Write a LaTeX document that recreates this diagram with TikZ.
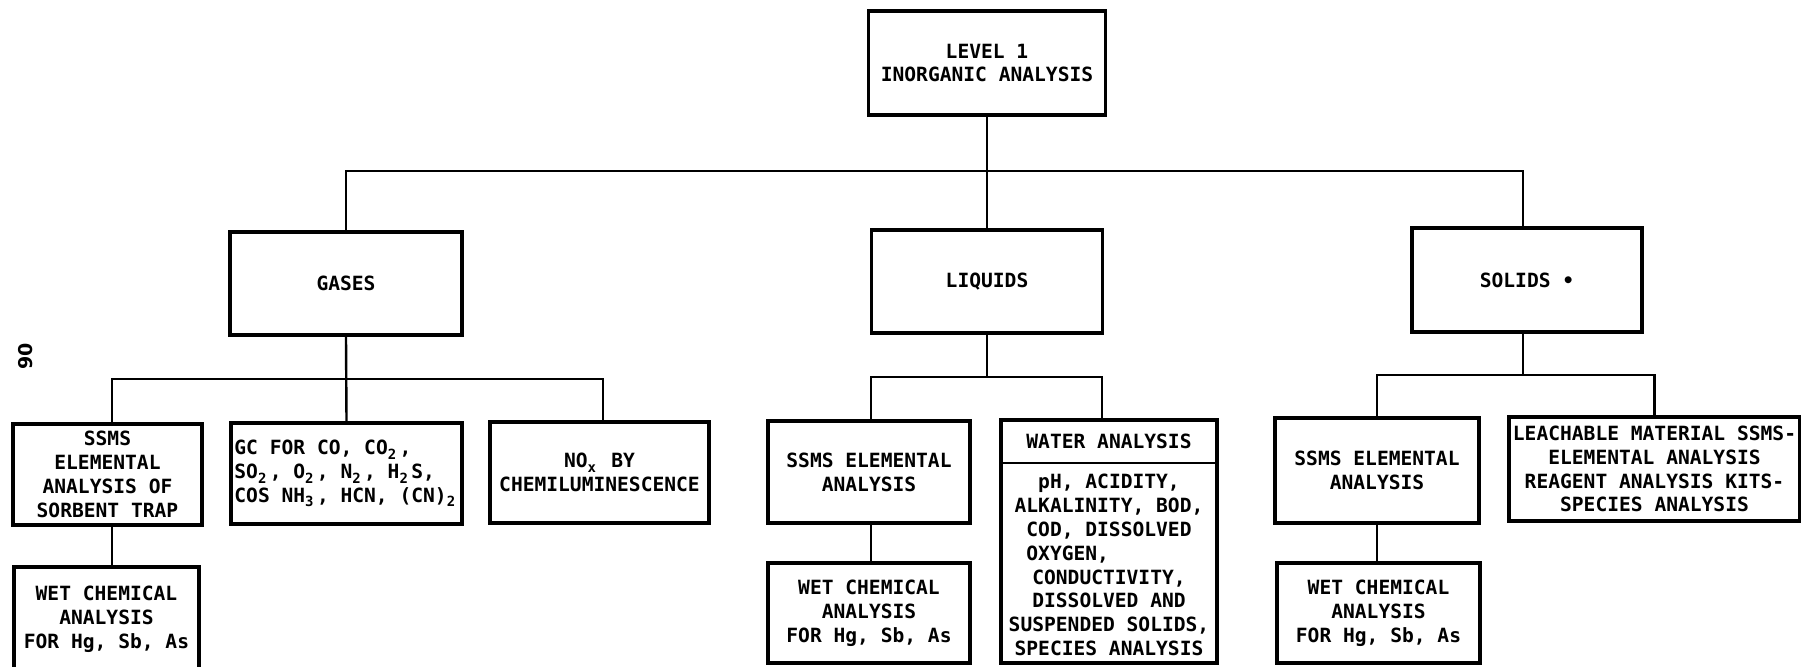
\documentclass[tikz,border=0pt]{standalone}
\usepackage{fontspec}
\setmonofont{DejaVu Sans Mono}
\newfontfamily\pagenumfont{DejaVu Sans}
\newcommand\sbs[1]{\makebox[0.6em][l]{\raisebox{-0.45ex}{\fontsize{7}{7}\selectfont #1}}}
\begin{document}
\begin{tikzpicture}[x=0.5pt,y=-0.5pt,
  box/.style={draw, line width=1.6pt, inner sep=0pt, align=center,
    font=\ttfamily\bfseries\fontsize{9.8}{11.9}\selectfont},
  lbl/.style={inner sep=0pt, align=center,
    font=\ttfamily\bfseries\fontsize{9.8}{11.9}\selectfont},
  link/.style={line width=1.2pt}]
\useasboundingbox (0,0) rectangle (1801,666);
\clip (0,0) rectangle (1801,666);

% page number
\node[rotate=90, inner sep=0pt, font=\pagenumfont\bfseries\fontsize{9.5}{10}\selectfont] (pnum) at (26,356) {90};

% level 0 and 1
\node[box, minimum width=118.5pt, minimum height=52pt] (top) at (987,63) {LEVEL 1\\INORGANIC ANALYSIS};
\node[box, minimum width=116pt, minimum height=51.5pt] (gases) at (346,283.5) {GASES};
\node[box, minimum width=115.5pt, minimum height=51.5pt] (liquids) at (987,281.5) {LIQUIDS};
\node[box, minimum width=115pt, minimum height=52pt] (solids) at (1527,280) {SOLIDS •};

% gases children
\node[box, minimum width=94.5pt, minimum height=50.5pt] (sorbent) at (107.5,474.5) {SSMS\\ELEMENTAL\\ANALYSIS OF\\SORBENT TRAP};
\node[box, minimum width=115.5pt, minimum height=50.5pt, align=left] (gc) at (346.5,473.5) {GC FOR CO, CO\sbs{2},\\SO\sbs{2}, O\sbs{2}, N\sbs{2}, H\sbs{2}S,\\COS NH\sbs{3}, HCN, (CN)\sbs{2}};
\node[box, minimum width=109.5pt, minimum height=50.5pt] (nox) at (599.5,472.5) {NO\sbs{x} BY\\CHEMILUMINESCENCE};
\node[box, minimum width=92.5pt, minimum height=52.5pt] (wet1) at (106.5,619.5) {WET CHEMICAL\\ANALYSIS\\FOR Hg, Sb, As};

% liquids children
\node[box, minimum width=101pt, minimum height=51pt] (lssms) at (869,472) {SSMS ELEMENTAL\\ANALYSIS};
\node[box, minimum width=101pt, minimum height=50pt] (lwet) at (869,613) {WET CHEMICAL\\ANALYSIS\\FOR Hg, Sb, As};
\node[box, minimum width=108pt, minimum height=121.5pt] (water) at (1109,541.5) {};
\coordinate (wdiv) at (1109,463);
\draw[line width=1.3pt] (water.west |- wdiv) -- (water.east |- wdiv);
\node[lbl] (wtitle) at (1109,441) {WATER ANALYSIS};
\node[lbl] (wbody) at (1109,565) {pH, ACIDITY,\\ALKALINITY, BOD,\\COD, DISSOLVED\\OXYGEN,\phantom{XXXXXXX}\\CONDUCTIVITY,\\DISSOLVED AND\\SUSPENDED SOLIDS,\\SPECIES ANALYSIS};

% solids children
\node[box, minimum width=102pt, minimum height=52.5pt] (sssms) at (1377,470.5) {SSMS ELEMENTAL\\ANALYSIS};
\node[box, minimum width=101.5pt, minimum height=50pt] (swet) at (1378.5,613) {WET CHEMICAL\\ANALYSIS\\FOR Hg, Sb, As};
\node[box, minimum width=145.5pt, minimum height=52pt] (leach) at (1654.5,469) {LEACHABLE MATERIAL SSMS-\\ELEMENTAL ANALYSIS\\REAGENT ANALYSIS KITS-\\SPECIES ANALYSIS};

% connectors
\coordinate (bus) at (987,171);
\draw[link] (top.south) -- (liquids.north);
\draw[link] (gases.north) |- (bus) -| ([xshift=-2pt]solids.north);

\coordinate (gbus) at (346,379);
\draw[link] (gases.south) -- (gc.north);
\draw[link] ([xshift=2.25pt]sorbent.north) |- (gbus) -| ([xshift=1.75pt]nox.north);
\draw[link] ([xshift=2.25pt]sorbent.south) -- ([xshift=2.25pt]sorbent.south |- wet1.north);

\coordinate (lbus) at (987,377);
\draw[link] (liquids.south) -- (lbus);
\draw[link] ([xshift=1pt]lssms.north) |- (lbus) -| ([xshift=-3.5pt]water.north);
\draw[link] ([xshift=1pt]lssms.south) -- ([xshift=1pt]lssms.south |- lwet.north);

\coordinate (sbus) at (1523,375);
\draw[link] ([xshift=-2pt]solids.south) -- (sbus);
\draw[link] (sssms.north) |- (sbus) -| (leach.north);
\draw[link] (sssms.south) -- (sssms.south |- swet.north);
\end{tikzpicture}
\end{document}
